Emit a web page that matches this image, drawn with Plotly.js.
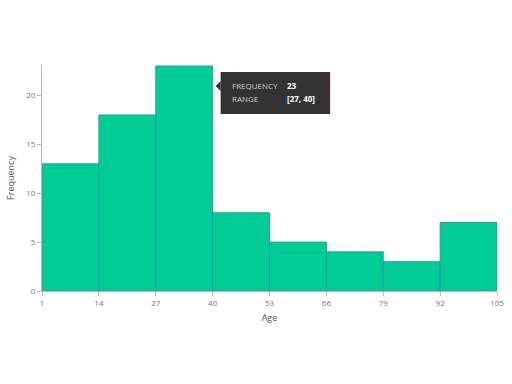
<!DOCTYPE html>
<html>
<head>
<meta charset="utf-8">
<script src="https://cdn.plot.ly/plotly-3.0.1.min.js"></script>
<style>html,body{margin:0;padding:0;background:#fff;}#chart{width:512px;height:384px;}</style>
</head>
<body>
<div id="chart"></div>
<script>
var binEdges = [1, 14, 27, 40, 53, 66, 79, 92, 105];
var frequencies = [13, 18, 23, 8, 5, 4, 3, 7];
var tickLabels = ['1', '14', '27', '40', '53', '66', '79', '92', '105'];
var yTicks = [0, 5, 10, 15, 20];
var hoverIndex = 2;

var centers = [], widths = [];
for (var i = 0; i < frequencies.length; i++) {
  centers.push((binEdges[i] + binEdges[i + 1]) / 2);
  widths.push(binEdges[i + 1] - binEdges[i]);
}

var trace = {
  type: 'bar',
  x: centers,
  y: frequencies,
  width: widths,
  marker: {color: '#00cc96', line: {color: 'rgba(40,150,170,0.9)', width: 1}},
  hoverinfo: 'none'
};

var ax = binEdges[hoverIndex + 1], ay = frequencies[hoverIndex];
var fontLbl = {family: 'Open Sans, sans-serif', size: 8, color: '#cfcfcf'};
var fontVal = {family: 'Open Sans, sans-serif', size: 8, color: '#ffffff'};

var layout = {
  width: 512, height: 384,
  margin: {l: 42, r: 15, t: 65, b: 93},
  paper_bgcolor: '#fff', plot_bgcolor: '#fff',
  showlegend: false,
  font: {family: 'Open Sans, sans-serif', size: 8, color: '#666'},
  xaxis: {
    range: [1, 105], tickmode: 'array', tickvals: binEdges, ticktext: tickLabels,
    ticks: 'outside', ticklen: 4, tickcolor: '#bbb', showgrid: false, zeroline: false,
    showline: true, linecolor: '#bbb', linewidth: 1,
    tickfont: {size: 8, color: '#777'},
    title: {text: 'Age', font: {size: 9, color: '#555'}, standoff: 8}
  },
  yaxis: {
    range: [0, 23.1], tickmode: 'array', tickvals: yTicks,
    ticks: 'outside', ticklen: 4, tickcolor: '#bbb', showgrid: false, zeroline: false,
    showline: true, linecolor: '#bbb', linewidth: 1,
    tickfont: {size: 8, color: '#777'},
    title: {text: 'Frequency', font: {size: 9, color: '#555'}, standoff: 10}
  },
  shapes: [
    {type: 'rect', xref: 'x', yref: 'y', xsizemode: 'pixel', ysizemode: 'pixel',
     xanchor: ax, yanchor: ay, x0: 8, x1: 117, y0: -6, y1: -48,
     fillcolor: '#333333', line: {width: 0}},
    {type: 'path', xref: 'x', yref: 'y', xsizemode: 'pixel', ysizemode: 'pixel',
     xanchor: ax, yanchor: ay, path: 'M 3,-20 L 8,-15 L 8,-25 Z',
     fillcolor: '#333333', line: {width: 0}},
    {type: 'line', xref: 'x', yref: 'y', xsizemode: 'pixel', ysizemode: 'pixel',
     xanchor: ax, yanchor: ay, x0: 117, x1: 117, y0: -6, y1: -48,
     line: {color: '#5a1010', width: 1}}
  ],
  annotations: [
    {xref: 'x', yref: 'y', x: ax, y: ay, xanchor: 'left', yanchor: 'middle', showarrow: false,
     xshift: 17, yshift: -20, text: 'FREQUENCY', font: fontLbl},
    {xref: 'x', yref: 'y', x: ax, y: ay, xanchor: 'left', yanchor: 'middle', showarrow: false,
     xshift: 72, yshift: -20, text: '<b>' + frequencies[hoverIndex] + '</b>', font: fontVal},
    {xref: 'x', yref: 'y', x: ax, y: ay, xanchor: 'left', yanchor: 'middle', showarrow: false,
     xshift: 17, yshift: -33, text: 'RANGE', font: fontLbl},
    {xref: 'x', yref: 'y', x: ax, y: ay, xanchor: 'left', yanchor: 'middle', showarrow: false,
     xshift: 72, yshift: -33, text: '<b>[' + binEdges[hoverIndex] + ', ' + binEdges[hoverIndex + 1] + ']</b>', font: fontVal}
  ]
};

Plotly.newPlot('chart', [trace], layout, {displayModeBar: false, staticPlot: true});
</script>
</body>
</html>
